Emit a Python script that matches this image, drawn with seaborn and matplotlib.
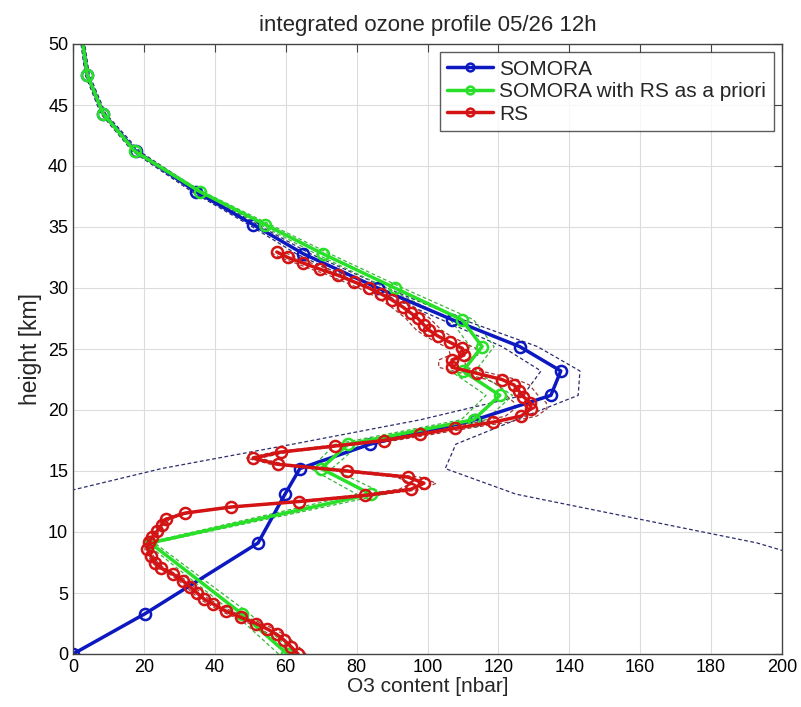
import numpy as np
import pandas as pd
import matplotlib
matplotlib.use("Agg")
import matplotlib.pyplot as plt
import seaborn as sns

# ---------------- data ----------------
somora_h = [0, 3.3, 9.1, 13.1, 15.2, 17.2, 19.2, 21.2, 23.2, 25.2, 27.4, 30.0,
            32.8, 35.2, 37.9, 41.2, 44.3, 47.5, 50.8]
somora_v = [0, 20.3, 52.2, 59.8, 64, 83.8, 113.5, 134.8, 137.6, 126, 107, 86,
            65, 50.8, 34.7, 17.8, 8.5, 4.0, 2.4]
somora_lo = [-200, -60, -30, -5, 25, 62, 98, 127, 132, 121, 104, 83.5,
             63, 49.5, 33.5, 16.8, 7.8, 3.4, 1.9]
somora_hi = [330, 260, 193, 125, 105, 108, 125, 142.5, 143, 131, 110, 88.5,
             67, 52, 36, 18.8, 9.2, 4.6, 2.9]

green_h = somora_h
green_v = [60.5, 47.6, 21.8, 84, 70, 77.6, 113, 120.4, 110, 115.4, 109.7, 90.8,
           70.5, 54.2, 35.8, 17.5, 8.5, 4.0, 2.4]
green_lo = [58, 45.5, 20.5, 80, 67, 74, 109.5, 116.5, 106.5, 112, 106.5, 88.5,
            68.5, 52.8, 35, 17.1, 8.2, 3.8, 2.3]
green_hi = [63, 49.8, 23, 88, 73, 81, 116.5, 124, 113.5, 118.8, 113, 93,
            72.5, 55.6, 36.6, 17.9, 8.8, 4.2, 2.5]

rs_h = [0.0, 0.6, 1.15, 1.6, 2.05, 2.5, 3.0, 3.5, 4.1, 4.5, 5.0, 5.5, 6.0, 6.55,
        7.05, 7.5, 8.0, 8.6, 9.2, 9.6, 10.1, 10.6, 11.05, 11.55, 12.05, 12.5,
        13.0, 13.5, 14.0, 14.5, 15.0, 15.55, 16.05, 16.55, 17.05, 17.5, 18.0,
        18.5, 19.0, 19.5, 20.1, 20.6, 21.1, 21.55, 22.05, 22.5, 23.0, 23.5,
        24.1, 24.5, 25.05, 25.55, 26.05, 26.55, 27.0, 27.5, 27.95, 28.45, 29.0,
        29.5, 30.0, 30.5, 31.05, 31.55, 32.05, 32.5, 32.95]
rs_v = [63.5, 61.5, 59.5, 57.5, 54.8, 51.6, 47.4, 43.2, 39.5, 37.0, 35.0, 33.0,
        31.0, 28.2, 24.8, 23.1, 22.0, 21.0, 21.5, 22.4, 23.8, 25.0, 26.3, 31.6,
        44.6, 63.8, 82.4, 95.3, 99.0, 94.5, 77.3, 57.8, 50.8, 58.6, 73.9, 87.7,
        97.9, 107.8, 118.5, 126.4, 129.2, 129.0, 127.0, 125.8, 124.4, 121.0,
        114.0, 106.9, 106.9, 110.3, 109.8, 106.3, 103.0, 100.4, 98.9, 97.3,
        95.3, 93.0, 90.1, 87.0, 83.5, 79.3, 74.7, 69.6, 64.9, 60.6, 57.5]
rs_rel_err = 0.035

x_ticks = [0, 20, 40, 60, 80, 100, 120, 140, 160, 180, 200]
y_ticks = [0, 5, 10, 15, 20, 25, 30, 35, 40, 45, 50]

# ---------------- style ----------------
sns.set_style("white")
plt.rcParams["font.family"] = ["Liberation Sans", "DejaVu Sans"]

BLUE = "#0c18c0"
GREEN = "#28e028"
RED = "#d41414"
BLUE_D = "#2c2c6e"
GREEN_D = "#3cb43c"
RED_D = "#9a3a3a"

fig = plt.figure(figsize=(8.01, 7.07), dpi=100)
ax = fig.add_axes([73 / 801, 1 - 654 / 707, (782 - 73) / 801, (654 - 44) / 707])

rs_lo = [v * (1 - rs_rel_err) for v in rs_v]
rs_hi = [v * (1 + rs_rel_err) for v in rs_v]

def dashed(xv, yv, color, lw=0.9):
    sns.lineplot(x=xv, y=yv, sort=False, estimator=None, ax=ax, color=color,
                 linewidth=lw, linestyle=(0, (3, 2)), legend=False)

dashed(somora_lo, somora_h, BLUE_D)
dashed(somora_hi, somora_h, BLUE_D)
dashed(green_lo, green_h, GREEN_D)
dashed(green_hi, green_h, GREEN_D)
dashed(rs_lo, rs_h, RED_D)
dashed(rs_hi, rs_h, RED_D)

common = dict(sort=False, estimator=None, ax=ax, marker="o", markersize=8,
              markerfacecolor="none", markeredgewidth=1.8, linewidth=2.5)
sns.lineplot(x=somora_v, y=somora_h, color=BLUE, markeredgecolor=BLUE,
             label="SOMORA", **common)
sns.lineplot(x=green_v, y=green_h, color=GREEN, markeredgecolor=GREEN,
             label="SOMORA with RS as a priori", **common)
sns.lineplot(x=rs_v, y=rs_h, color=RED, markeredgecolor=RED,
             label="RS", **common)

ax.set_xlim(0, 200)
ax.set_ylim(0, 50)
ax.set_xticks(x_ticks)
ax.set_yticks(y_ticks)
ax.grid(True, color="#dcdcdc", linewidth=0.8)
ax.set_axisbelow(True)
for s in ax.spines.values():
    s.set_color("#444444")
    s.set_linewidth(1.0)
ax.tick_params(direction="in", length=6, width=0.8, colors="#444444",
               labelcolor="black", labelsize=13, top=True, right=True,
               labeltop=False, labelright=False)
ax.set_xlabel("O3 content [nbar]", fontsize=15, labelpad=1)
ax.set_ylabel("height [km]", fontsize=16.5, labelpad=4)
ax.set_title("integrated ozone profile 05/26 12h", fontsize=16, pad=9)

leg = ax.legend(loc="upper right", fontsize=15, frameon=True, fancybox=False,
                borderaxespad=0.4, handlelength=2.2, handletextpad=0.3,
                labelspacing=0.17, borderpad=0.35, markerscale=0.7)
leg.get_frame().set_edgecolor("#333333")
leg.get_frame().set_linewidth(1.0)

fig.savefig("out.png", dpi=100)
